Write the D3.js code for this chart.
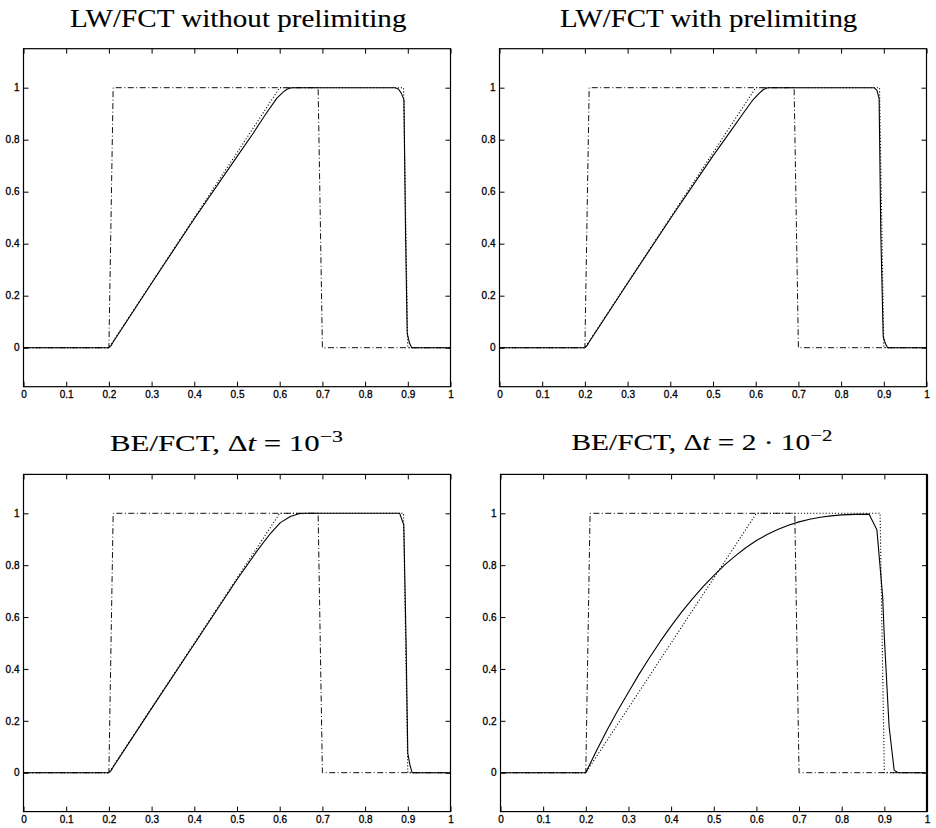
<!DOCTYPE html>
<html>
<head>
<meta charset="utf-8">
<script src="https://cdn.jsdelivr.net/npm/d3@7"></script>
<style>
  html, body { margin: 0; padding: 0; background: #fff; }
  svg { display: block; }
  .tick-label { font-family: "Liberation Sans", Arial, sans-serif; font-size: 10px; fill: #000; stroke: #000; stroke-width: 0.3px; }
  .title { font-family: "Liberation Serif", "Times New Roman", serif; fill: #000; stroke: #000; stroke-width: 0.12px; }
</style>
</head>
<body>
<svg id="chart" width="936" height="828"></svg>
<script>
// Axis ticks shared by all four panels
const xTicks = [0, 0.1, 0.2, 0.3, 0.4, 0.5, 0.6, 0.7, 0.8, 0.9, 1];
const xTickLabels = ["0", "0.1", "0.2", "0.3", "0.4", "0.5", "0.6", "0.7", "0.8", "0.9", "1"];
const yTicks = [0, 0.2, 0.4, 0.6, 0.8, 1];
const yTickLabels = ["0", "0.2", "0.4", "0.6", "0.8", "1"];
const xDomain = [0, 1];
const yDomain = [-0.15, 1.15];

// Initial data (dash-dot)
const initX = [0, 0.2, 0.21, 0.69, 0.70, 1];
const initU = [0, 0, 1, 1, 0, 0];

// Exact solution (dotted)
const exactX = [0, 0.2, 0.6, 0.89, 0.90, 1];
const exactU = [0, 0, 1, 1, 0, 0];

// LW/FCT without prelimiting
const lwPlainX = [0, 0.2, 0.205, 0.21, 0.3, 0.4, 0.5, 0.538, 0.565, 0.593, 0.608, 0.618, 0.628, 0.870, 0.878, 0.885, 0.891, 0.8947, 0.8986, 0.904, 0.909, 1];
const lwPlainU = [0, 0, 0.008, 0.022, 0.248, 0.496, 0.735, 0.825, 0.893, 0.959, 0.983, 0.995, 1, 1, 0.995, 0.978, 0.953, 0.44, 0.055, 0.018, 0, 0];

// LW/FCT with prelimiting
const lwPreX = [0, 0.2, 0.205, 0.21, 0.3, 0.4, 0.5, 0.54, 0.57, 0.592, 0.608, 0.618, 0.628, 0.877, 0.884, 0.889, 0.893, 0.8986, 0.904, 0.909, 1];
const lwPreU = [0, 0, 0.008, 0.022, 0.248, 0.496, 0.738, 0.83, 0.9, 0.95, 0.978, 0.993, 1, 1, 0.99, 0.959, 0.44, 0.042, 0.015, 0, 0];

// BE/FCT, dt = 1e-3
const beFineX = [0, 0.2, 0.205, 0.21, 0.3, 0.4, 0.5, 0.547, 0.578, 0.6016, 0.625, 0.645, 0.658, 0.881, 0.8906, 0.896, 0.9, 0.905, 0.91, 1];
const beFineU = [0, 0, 0.008, 0.022, 0.248, 0.496, 0.745, 0.855, 0.922, 0.964, 0.988, 0.998, 1, 1, 0.955, 0.5, 0.075, 0.03, 0, 0];

// BE/FCT, dt = 2e-2
const beCoarseX = [0, 0.2, 0.225, 0.25, 0.275, 0.3, 0.325, 0.35, 0.375, 0.4, 0.425, 0.45, 0.475, 0.5, 0.525, 0.55, 0.575, 0.6, 0.625, 0.65, 0.675, 0.7, 0.725, 0.75, 0.775, 0.8, 0.83, 0.864, 0.8825, 0.896, 0.9, 0.911, 0.923, 0.932, 1];
const beCoarseU = [0, 0, 0.085, 0.165, 0.24, 0.31, 0.38, 0.445, 0.507, 0.565, 0.62, 0.67, 0.717, 0.76, 0.8, 0.835, 0.867, 0.895, 0.918, 0.938, 0.954, 0.967, 0.977, 0.985, 0.99, 0.994, 0.996, 0.997, 0.937, 0.68, 0.52, 0.18, 0.01, 0, 0];

// Panel layout: plot-area rectangles and titles
const panels = [
  { left: 23.5, right: 450.5, top: 48.7, bottom: 386.7,
    solX: lwPlainX, solU: lwPlainU,
    title: [{ t: "LW/FCT without prelimiting" }],
    titleX: 70, titleW: 337, titleY: 26.7, titleSize: 25 },
  { left: 499.5, right: 926.5, top: 48.7, bottom: 386.7,
    solX: lwPreX, solU: lwPreU,
    title: [{ t: "LW/FCT with prelimiting" }],
    titleX: 560, titleW: 298, titleY: 26.7, titleSize: 25 },
  { left: 23.5, right: 450.5, top: 474.4, bottom: 811.6,
    solX: beFineX, solU: beFineU,
    title: [{ t: "BE/FCT, \u0394" }, { t: "t", italic: true }, { t: " = 10" }, { t: "\u22123", sup: true }],
    titleX: 110, titleW: 233, titleY: 450.5, titleSize: 24 },
  { left: 500.5, right: 927, top: 474.4, bottom: 811.6, thickRight: true,
    solX: beCoarseX, solU: beCoarseU,
    title: [{ t: "BE/FCT, \u0394" }, { t: "t", italic: true }, { t: " = 2 \u00B7 10" }, { t: "\u22122", sup: true }],
    titleX: 571.5, titleW: 261, titleY: 449.5, titleSize: 24 }
];

const svg = d3.select("#chart");
const tickLen = 5;

panels.forEach(p => {
  const x = d3.scaleLinear().domain(xDomain).range([p.left, p.right]);
  const y = d3.scaleLinear().domain(yDomain).range([p.bottom, p.top]);
  const g = svg.append("g");

  // frame
  g.append("rect")
    .attr("x", p.left).attr("y", p.top)
    .attr("width", p.right - p.left).attr("height", p.bottom - p.top)
    .attr("fill", "none").attr("stroke", "#000").attr("stroke-width", 1.2);
  if (p.thickRight) {
    g.append("line")
      .attr("x1", p.right).attr("x2", p.right)
      .attr("y1", p.top).attr("y2", p.bottom)
      .attr("stroke", "#000").attr("stroke-width", 2.2);
  }

  // inward ticks on all four sides, labels bottom and left
  const bottomAxis = d3.axisBottom(x).tickValues(xTicks).tickSize(-tickLen)
    .tickFormat((d, i) => xTickLabels[i]).tickPadding(4.5);
  const topAxis = d3.axisTop(x).tickValues(xTicks).tickSize(-tickLen).tickFormat("");
  const leftAxis = d3.axisLeft(y).tickValues(yTicks).tickSize(-tickLen)
    .tickFormat((d, i) => yTickLabels[i]).tickPadding(4);
  const rightAxis = d3.axisRight(y).tickValues(yTicks).tickSize(-tickLen).tickFormat("");

  const styleAxis = sel => {
    sel.select(".domain").remove();
    sel.selectAll(".tick line").attr("stroke", "#000").attr("stroke-width", 1);
    sel.selectAll(".tick text").attr("class", "tick-label").attr("font-size", null).attr("font-family", null);
  };
  g.append("g").attr("transform", `translate(0,${p.bottom})`).call(bottomAxis).call(styleAxis);
  g.append("g").attr("transform", `translate(0,${p.top})`).call(topAxis).call(styleAxis);
  g.append("g").attr("transform", `translate(${p.left},0)`).call(leftAxis).call(styleAxis);
  g.append("g").attr("transform", `translate(${p.right},0)`).call(rightAxis).call(styleAxis);

  const line = d3.line().x(d => x(d[0])).y(d => y(d[1]));

  // initial data, dash-dot
  g.append("path").datum(d3.zip(initX, initU)).attr("d", line)
    .attr("fill", "none").attr("stroke", "#111").attr("stroke-width", 1)
    .attr("stroke-dasharray", "6,2.5,1,2.5");
  // exact solution, dotted
  g.append("path").datum(d3.zip(exactX, exactU)).attr("d", line)
    .attr("fill", "none").attr("stroke", "#000").attr("stroke-width", 1.1)
    .attr("stroke-dasharray", "1.1,2");
  // numerical solution, solid
  g.append("path").datum(d3.zip(p.solX, p.solU)).attr("d", line)
    .attr("fill", "none").attr("stroke", "#000").attr("stroke-width", 1.1)
    .attr("stroke-linejoin", "round");

  // title, stretched horizontally to its set width
  const title = svg.append("text").attr("class", "title")
    .attr("x", 0).attr("y", 0).attr("font-size", p.titleSize);
  p.title.forEach(part => {
    const ts = title.append("tspan").text(part.t);
    if (part.italic) ts.attr("font-style", "italic");
    if (part.sup) ts.attr("font-size", Math.round(p.titleSize * 0.7)).attr("dy", -p.titleSize * 0.36);
  });
  const w = title.node().getBBox().width;
  title.attr("transform", `translate(${p.titleX},${p.titleY}) scale(${p.titleW / w},1)`);
});
</script>
</body>
</html>
